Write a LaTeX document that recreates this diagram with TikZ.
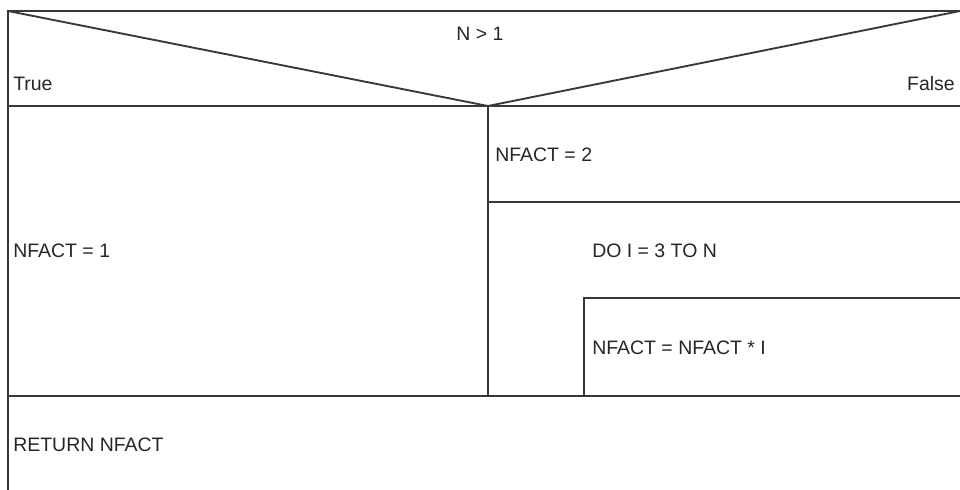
\documentclass[tikz,border=0pt]{standalone}
\usepackage{fontspec}
\setmainfont{Liberation Sans}
\begin{document}
\begin{tikzpicture}[x=0.75pt,y=-0.75pt,
  ns/.style={line width=1.4pt,draw=black!78,line cap=rect},
  lbl/.style={inner sep=0pt,font=\fontsize{14.6}{17}\selectfont,text=black!85}]
\useasboundingbox (0,0) rectangle (960,489);
% corners
\coordinate (TL) at (8,11);
\coordinate (TR) at (960,11);
\coordinate (BL) at (8,489);
\coordinate (CL) at (8,106);
\coordinate (CR) at (960,106);
\coordinate (CM) at (488,106);
\coordinate (S1L) at (488,202);
\coordinate (S1R) at (960,202);
\coordinate (LpL) at (584,298);
\coordinate (LpR) at (960,298);
\coordinate (LpB) at (584,396);
\coordinate (IfBL) at (8,396);
\coordinate (IfBM) at (488,396);
\coordinate (IfBR) at (960,396);
% frame
\draw[ns] (TR) -- (TL) -- (BL);
\draw[ns] (CL) -- (CR);
\draw[ns] (TL) -- (CM) -- (TR);
\draw[ns] (CM) -- (IfBM);
\draw[ns] (S1L) -- (S1R);
\draw[ns] (LpR) -- (LpL) -- (LpB);
\draw[ns] (IfBL) -- (IfBR);
% texts
\node[lbl,anchor=base] (cond) at (480,40) {N > 1};
\node[lbl,anchor=base west] (tru) at (13,90) {True};
\node[lbl,anchor=base east] (fal) at (955,90) {False};
\node[lbl,anchor=base west] (n2) at (495,161) {NFACT = 2};
\node[lbl,anchor=base west] (n1) at (13,257) {NFACT = 1};
\node[lbl,anchor=base west] (do) at (592,257) {DO I = 3 TO N};
\node[lbl,anchor=base west] (body) at (592,354) {NFACT = NFACT * I};
\node[lbl,anchor=base west] (ret) at (13,451) {RETURN NFACT};
\end{tikzpicture}
\end{document}
